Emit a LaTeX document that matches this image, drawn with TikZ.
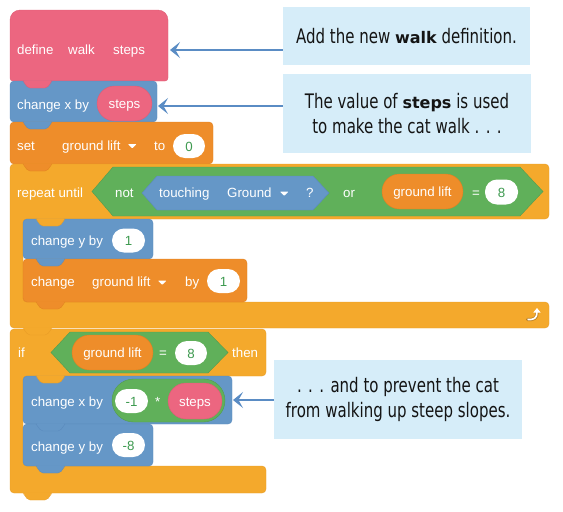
\documentclass[tikz,border=0pt]{standalone}
\usepackage{fontspec}
\usetikzlibrary{arrows.meta}
\newfontfamily\blockfont{Liberation Sans}
\newfontfamily\callfont{DejaVu Sans}[FakeStretch=0.75]
\newfontfamily\callboldfont{DejaVu Sans}
\newcommand\cbold[1]{{\callboldfont\bfseries\fontsize{16}{25}\selectfont #1}}
\definecolor{pinkblk}{HTML}{EC6680}
\definecolor{pinkedge}{HTML}{DE5C74}
\definecolor{blueblk}{HTML}{6597C7}
\definecolor{blueedge}{HTML}{5A8ABD}
\definecolor{orgblk}{HTML}{EE8D2A}
\definecolor{orgedge}{HTML}{E08020}
\definecolor{ctlblk}{HTML}{F4A92C}
\definecolor{ctledge}{HTML}{E89C26}
\definecolor{grnblk}{HTML}{60B05A}
\definecolor{numgreen}{HTML}{3E9A50}
\definecolor{callbg}{HTML}{D6EDF9}
\definecolor{arrowblue}{HTML}{5A8CC4}
\newcommand\scrbump[4]{%
  \fill[#1, rounded corners=2pt] ({#3+13},{#4-0.6}) -- ({#3+18},{#4+7}) -- ({#3+37},{#4+7}) -- ({#3+42},{#4-0.6}) -- cycle;
  \draw[#2, line width=0.4pt, rounded corners=2pt] ({#3+13},{#4}) -- ({#3+18},{#4+7}) -- ({#3+37},{#4+7}) -- ({#3+42},{#4});}
\newcommand\ddtri[2]{\fill[white, rounded corners=0.7pt] (#1,#2) -- ({#1+8.5},#2) -- ({#1+4.25},{#2+4.5}) -- cycle;}
\begin{document}
\begin{tikzpicture}[x=1pt,y=-1pt,
  lbl/.style={font=\blockfont\fontsize{13.3}{15}\selectfont, text=white, inner sep=0pt, anchor=base west},
  oval/.style={inner sep=0pt, font=\blockfont\fontsize{13.3}{15}\selectfont, text height=10.5pt, text depth=0pt},
  numoval/.style={oval, fill=white, text=numgreen, minimum width=33pt, minimum height=24pt, rounded corners=12pt},
  varoval/.style={oval, fill=orgblk, draw=orgedge, line width=0.4pt, text=white, minimum width=81pt, minimum height=35pt, rounded corners=17.5pt},
  paroval/.style={oval, fill=pinkblk, draw=pinkedge, line width=0.4pt, text=white, minimum height=35pt, rounded corners=17.5pt},
  blk/.style={line width=0.4pt, rounded corners=4pt},
  callout/.style={fill=callbg, inner sep=0pt, align=center, text=black!92, font=\callfont\fontsize{20}{25}\selectfont},
  conn/.style={arrowblue, line width=2pt, -{Stealth[length=10pt,width=16pt,inset=4.5pt]}}
]
\useasboundingbox (0,0) rectangle (563,512);

% ---------- block bodies ----------
% define hat
\path[fill=pinkblk, draw=pinkedge, line width=0.4pt] (10,78) -- (10,20) .. controls (10,14.5) and (14.5,10) .. (20,10) -- (158,10) .. controls (163.5,10) and (168,14.5) .. (168,20) -- (168,78) .. controls (168,79.7) and (166.3,81) .. (165,81) -- (13,81) .. controls (11.3,81) and (10,79.7) .. (10,78) -- cycle;
\filldraw[blk, fill=blueblk, draw=blueedge] (10,81) rectangle (157,122);
\filldraw[blk, fill=orgblk, draw=orgedge] (10,122) rectangle (213,164);
% repeat until C block
\filldraw[blk, fill=ctlblk, draw=ctledge] (10,164) -- (549,164) -- (549,219) -- (23,219) -- (23,302) -- (549,302) -- (549,328) -- (10,328) -- cycle;
\filldraw[blk, fill=blueblk, draw=blueedge] (23,219) rectangle (153,259);
\filldraw[blk, fill=orgblk, draw=orgedge] (23,259) rectangle (247,302);
% if C block
\filldraw[blk, fill=ctlblk, draw=ctledge] (10,329) -- (266,329) -- (266,376) -- (23,376) -- (23,466) -- (266,466) -- (266,493) -- (10,493) -- cycle;
\filldraw[blk, fill=blueblk, draw=blueedge] (23,376) rectangle (232,424);
\filldraw[blk, fill=blueblk, draw=blueedge] (23,424) rectangle (153,466);

% ---------- bumps ----------
\scrbump{pinkblk}{pinkedge}{10}{81}
\scrbump{blueblk}{blueedge}{10}{122}
\scrbump{orgblk}{orgedge}{10}{164}
\scrbump{ctlblk}{ctledge}{23}{219}
\scrbump{blueblk}{blueedge}{23}{259}
\scrbump{orgblk}{orgedge}{23}{302}
\scrbump{ctlblk}{ctledge}{10}{328}
\scrbump{ctlblk}{ctledge}{23}{376}
\scrbump{blueblk}{blueedge}{23}{424}
\scrbump{blueblk}{blueedge}{23}{466}
\scrbump{ctlblk}{ctledge}{10}{493}

% ---------- define walk steps ----------
\node[lbl] (defA) at (17,54) {define};
\node[lbl] (defB) at (68,54) {walk};
\node[lbl] (defC) at (113,54) {steps};

% ---------- change x by steps ----------
\node[lbl] (cx1) at (17,109) {change x by};
\node[paroval, minimum width=55pt] (cx1s) at (124.5,103.5) {steps};

% ---------- set ground lift to 0 ----------
\node[lbl] (st1) at (17,150) {set};
\node[lbl] (st2) at (62,150) {ground lift};
\ddtri{128}{144}
\node[lbl] (st3) at (154,150) {to};
\node[numoval, minimum width=32pt] (st4) at (189,146) {0};

% ---------- repeat until ----------
\node[lbl] (ru1) at (17,197.5) {repeat until};
\filldraw[fill=grnblk, draw=grnblk!88!black, line width=0.4pt] (92,191.5) -- (113,167) -- (520,167) -- (543,191.5) -- (520,216) -- (113,216) -- cycle;
\node[lbl] (ru2) at (115,197.5) {not};
\filldraw[fill=blueblk, draw=blueedge, line width=0.4pt] (142,193) -- (157,176) -- (313,176) -- (329,193) -- (313,210) -- (157,210) -- cycle;
\node[lbl] (ru3) at (159,197.5) {touching};
\node[lbl] (ru4) at (227,197.5) {Ground};
\ddtri{280}{191.5}
\node[lbl] (ru5) at (306,197.5) {?};
\node[lbl] (ru6) at (343,197.5) {or};
\node[varoval] (ru7) at (422.5,191.5) {ground lift};
\node[lbl] (ru8) at (472,197.5) {=};
\node[numoval, minimum height=25pt] (ru9) at (501.5,192) {8};
% loop arrow icon
\draw[ctledge!80!black, line width=3.2pt, line cap=round] (527.5,319.5) .. controls (534,320) and (537,318) .. (537,313);
\draw[white, line width=1.7pt, -{Triangle[length=4.5pt,width=7pt]}] (527.5,319.5) .. controls (534,320) and (537,318) .. (537,308);

% ---------- change y by 1 ----------
\node[lbl] (cy1) at (31,245) {change y by};
\node[numoval] (cy1n) at (128.5,240.5) {1};

% ---------- change ground lift by 1 ----------
\node[lbl] (cg1) at (31,286.5) {change};
\node[lbl] (cg2) at (92,286.5) {ground lift};
\ddtri{158}{280.5}
\node[lbl] (cg3) at (185,286.5) {by};
\node[numoval] (cg4) at (223.5,281) {1};

% ---------- if ground lift = 8 then ----------
\node[lbl] (if1) at (18,357) {if};
\filldraw[fill=grnblk, draw=grnblk!88!black, line width=0.4pt] (51,352.5) -- (70,332) -- (208,332) -- (228,352.5) -- (208,373) -- (70,373) -- cycle;
\node[varoval] (if2) at (112.5,352.5) {ground lift};
\node[lbl] (if3) at (159,357) {=};
\node[numoval, minimum width=32pt] (if4) at (191,353) {8};
\node[lbl] (if5) at (232,357) {then};

% ---------- change x by (-1 * steps) ----------
\node[lbl] (cx2) at (31,406) {change x by};
\node[oval, fill=grnblk, draw=grnblk!88!black, line width=0.4pt, minimum width=113pt, minimum height=43pt, rounded corners=21.5pt] (cx2g) at (168.5,400.5) {};
\node[numoval] (cx2n) at (131.5,401) {-1};
\node[lbl] (cx2m) at (155,406) {*};
\node[paroval, minimum width=54pt, minimum height=36pt, rounded corners=18pt] (cx2s) at (195,401) {steps};

% ---------- change y by -8 ----------
\node[lbl] (cy2) at (31,451) {change y by};
\node[numoval] (cy2n) at (128.5,445) {-8};

% ---------- callouts ----------
\node[callout, minimum width=247pt, minimum height=58pt] (c1) at (406.5,36) {Add the new \cbold{walk} definition.};
\node[callout, minimum width=248pt, minimum height=79pt] (c2) at (407,113.5) {The value of \cbold{steps} is used\\to make the cat walk . . .};
\node[callout, minimum width=248pt, minimum height=79pt] (c3) at (398,399.5) {. . . and to prevent the cat\\from walking up steep slopes.};

\coordinate (a1) at (170,50);
\coordinate (a2) at (158,106);
\coordinate (a3) at (233,400);
\draw[conn] (c1.west |- a1) -- (a1);
\draw[conn] (c2.west |- a2) -- (a2);
\draw[conn] (c3.west |- a3) -- (a3);
\end{tikzpicture}
\end{document}
